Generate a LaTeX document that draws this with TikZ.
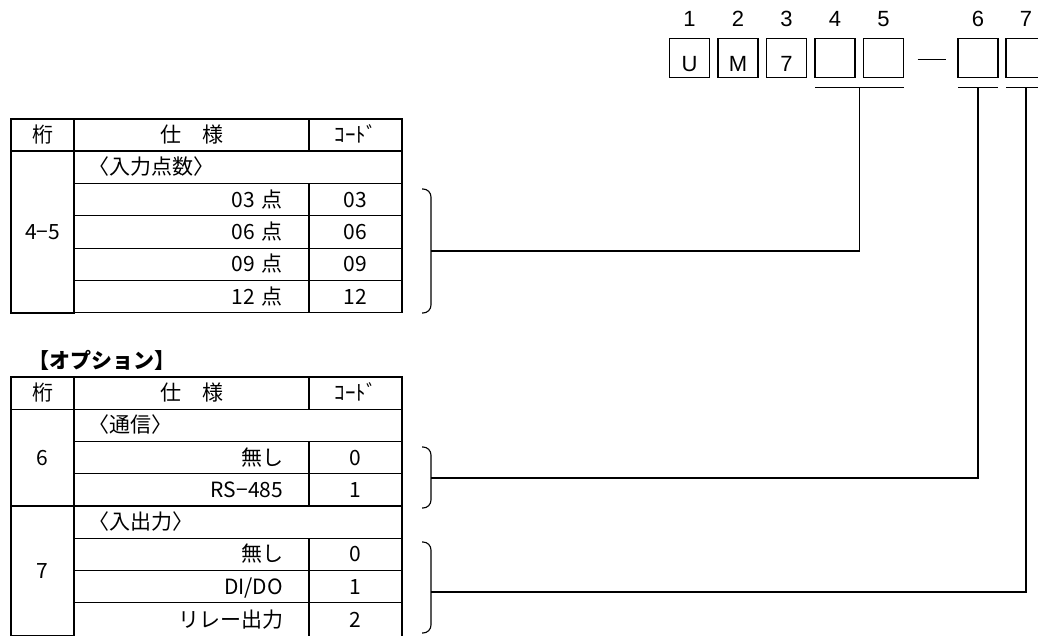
\documentclass[tikz,border=0pt]{standalone}
\usepackage{fontspec}
\setmainfont{Liberation Sans}
\newfontfamily\jpfont{Noto Sans CJK JP}
\usetikzlibrary{positioning,calc}
\newcommand\tbfont{\jpfont\fontsize{21}{24}\selectfont}

\begin{document}
\begin{tikzpicture}[x=1pt, y=-1pt, line width=1.1pt,
    cell/.style={rectangle, draw, anchor=north west, inner sep=0pt, outer sep=0pt, minimum height=32.3pt, text height=18pt, text depth=3pt, font=\tbfont},
    keta/.style={cell, minimum width=63pt},
    head/.style={cell, minimum width=235pt},
    spec/.style={cell, text width=183pt, inner xsep=26pt, align=right},
    grp/.style={cell, text width=300pt, inner xsep=14pt, align=left},
    code/.style={cell, minimum width=93pt},
    digitbox/.style={rectangle, draw, outer sep=0pt, minimum width=40pt, minimum height=39pt, inner sep=0pt, text height=28pt, text depth=0pt, font=\fontsize{22}{26}\selectfont},
    num/.style={inner sep=0pt, font=\fontsize{22}{26}\selectfont},
    brace/.style={rounded corners=8pt}]
    \useasboundingbox (0,0) rectangle (1038,635);

    % model code boxes
    \node(b1) [digitbox] at (689.5,57.75) {U};
    \node(b2) [digitbox, right=8.5pt of b1] {M};
    \node(b3) [digitbox, right=8.5pt of b2] {7};
    \node(b4) [digitbox, right=8.5pt of b3] {};
    \node(b5) [digitbox, right=8.5pt of b4] {};
    \node(b6) [digitbox, right=54.5pt of b5] {};
    \node(b7) [digitbox, right=8pt of b6] {};
    \node(n1) [num, above=11pt of b1] {1};
    \node(n2) [num, above=11pt of b2] {2};
    \node(n3) [num, above=11pt of b3] {3};
    \node(n4) [num, above=11pt of b4] {4};
    \node(n5) [num, above=11pt of b5] {5};
    \node(n6) [num, above=11pt of b6] {6};
    \node(n7) [num, above=11pt of b7] {7};
    \draw ($(b5.east)+(14,2)$) -- ($(b6.west)+(-12,2)$);

    % input points table
    \node(h1) [keta] at (11,119) {桁};
    \node(h2) [head] at (74,119) {仕　様};
    \node(h3) [code] at (309,119) {ｺｰﾄﾞ};
    \node(k45) [keta, minimum height=162pt] at (11,151) {4−5};
    \node(g45) [grp] at (74,151) {〈入力点数〉};
    \node(s03) [spec] at (74,183.4) {03 点};
    \node(c03) [code] at (309,183.4) {03};
    \node(s06) [spec] at (74,215.8) {06 点};
    \node(c06) [code] at (309,215.8) {06};
    \node(s09) [spec] at (74,248.2) {09 点};
    \node(c09) [code] at (309,248.2) {09};
    \node(s12) [spec] at (74,280.6) {12 点};
    \node(c12) [code] at (309,280.6) {12};

    % option table
    \node(opt) [anchor=west, inner sep=0pt, font=\tbfont\bfseries, text height=18pt, text depth=3pt] at (28,361) {【オプション】};
    \node(oh1) [keta] at (11,377) {桁};
    \node(oh2) [head] at (74,377) {仕　様};
    \node(oh3) [code] at (309,377) {ｺｰﾄﾞ};
    \node(k6) [keta, minimum height=96.75pt] at (11,409.25) {6};
    \node(g6) [grp] at (74,409.25) {〈通信〉};
    \node(s60) [spec] at (74,441.5) {無し};
    \node(c60) [code] at (309,441.5) {0};
    \node(s61) [spec] at (74,473.75) {RS−485};
    \node(c61) [code] at (309,473.75) {1};
    \node(k7) [keta, minimum height=130pt] at (11,506) {7};
    \node(g7) [grp] at (74,506) {〈入出力〉};
    \node(s70) [spec] at (74,538.25) {無し};
    \node(c70) [code] at (309,538.25) {0};
    \node(s71) [spec] at (74,570.5) {DI/DO};
    \node(c71) [code] at (309,570.5) {1};
    \node(s72) [spec, minimum height=33.5pt] at (74,602.75) {リレー出力};
    \node(c72) [code, minimum height=33.5pt] at (309,602.75) {2};

    % braces and leader lines
    \coordinate(br45) at (431,251);
    \coordinate(br6) at (431,478);
    \coordinate(br7) at (431,592);
    \draw[brace] (422,189) -- (431,189) -- (431,313) -- (422,313);
    \draw[brace] (422,447) -- (431,447) -- (431,508) -- (422,508);
    \draw[brace] (422,542) -- (431,542) -- (431,633) -- (422,633);
    \coordinate(u45) at ($(b4.south)!0.5!(b5.south)+(0,10)$);
    \draw ([yshift=-10pt]b4.south west) -- ([yshift=-10pt]b5.south east);
    \draw ([yshift=-10pt]b6.south west) -- ([yshift=-10pt]b6.south east);
    \draw ([yshift=-10pt]b7.south west) -- ([yshift=-10pt]b7.south east);
    \draw (u45) |- (br45);
    \draw ([yshift=-10pt]b6.south) |- (br6);
    \draw ([yshift=-10pt]b7.south) |- (br7);
  \end{tikzpicture}
\end{document}
